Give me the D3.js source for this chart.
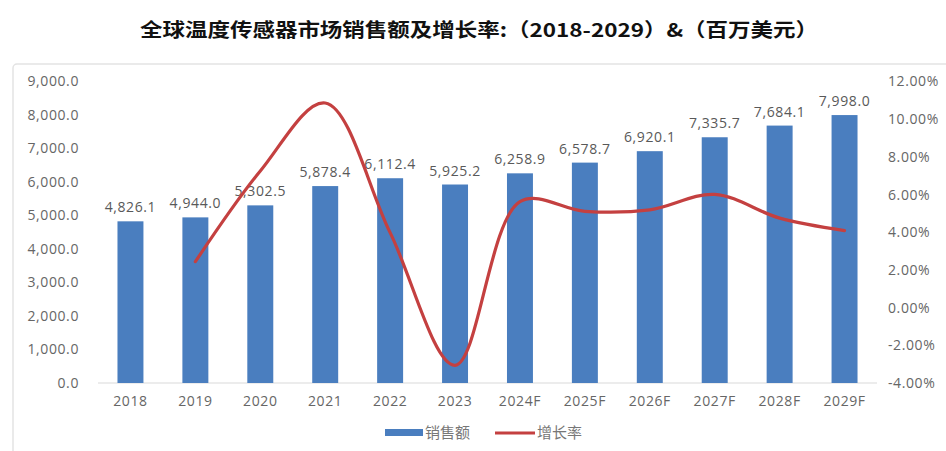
<!DOCTYPE html>
<html>
<head>
<meta charset="utf-8">
<script src="https://cdn.jsdelivr.net/npm/d3@7"></script>
<style>
  body { margin: 0; background: #fff; }
  svg { display: block; }
</style>
</head>
<body>
<svg id="chart" width="946" height="451"></svg>
<script>
const years = [ '2018', '2019', '2020', '2021', '2022', '2023', '2024F', '2025F', '2026F', '2027F', '2028F', '2029F' ];
const sales = [ 4826.1, 4944.0, 5302.5, 5878.4, 6112.4, 5925.2, 6258.9, 6578.7, 6920.1, 7335.7, 7684.1, 7998.0 ];
// growth rate in %, first year has none
const growth = [ null, 2.44, 7.25, 10.86, 3.98, -3.06, 5.63, 5.11, 5.19, 6.01, 4.75, 4.09 ];
const leftTicks = [ 0, 1000, 2000, 3000, 4000, 5000, 6000, 7000, 8000, 9000 ];
const rightTicks = [ -4, -2, 0, 2, 4, 6, 8, 10, 12 ];

const svg = d3.select( '#chart' );
const font = '"Open Sans", "Noto Sans CJK SC", sans-serif';
const grey = '#595959';

// outer frame
svg.append( 'rect' )
    .attr( 'x', 13 ).attr( 'y', 64 )
    .attr( 'width', 960 ).attr( 'height', 420 )
    .attr( 'rx', 4 )
    .attr( 'fill', 'none' )
    .attr( 'stroke', '#e3e3e3' )
    .attr( 'stroke-width', 1.5 );

svg.append( 'text' )
    .attr( 'x', 479 ).attr( 'y', 37 )
    .attr( 'text-anchor', 'middle' )
    .attr( 'font-family', '"Noto Sans CJK SC", sans-serif' )
    .attr( 'font-weight', 'bold' )
    .attr( 'font-size', 19 )
    .attr( 'textLength', 678 )
    .attr( 'lengthAdjust', 'spacingAndGlyphs' )
    .attr( 'fill', '#111' )
    .text( '全球温度传感器市场销售额及增长率:（2018-2029）&（百万美元）' );

const x = d3.scaleBand().domain( years ).range( [ 98, 877 ] ).paddingInner( 0.6 ).paddingOuter( 0.3 );
const y = d3.scaleLinear().domain( [ 0, 9000 ] ).range( [ 383, 81.5 ] );
const y2 = d3.scaleLinear().domain( [ -4, 12 ] ).range( [ 383, 81.5 ] );

// baseline
svg.append( 'line' )
    .attr( 'x1', 98 ).attr( 'x2', 877 )
    .attr( 'y1', y( 0 ) ).attr( 'y2', y( 0 ) )
    .attr( 'stroke', '#d9d9d9' );

const leftAxis = svg.append( 'g' )
    .attr( 'transform', 'translate(79,0)' )
    .call( d3.axisLeft( y ).tickValues( leftTicks ).tickSize( 0 ).tickPadding( 0 ).tickFormat( d3.format( ',.1f' ) ) );

const rightAxis = svg.append( 'g' )
    .attr( 'transform', 'translate(888,0)' )
    .call( d3.axisRight( y2 ).tickValues( rightTicks ).tickSize( 0 ).tickPadding( 0 ).tickFormat( d => d.toFixed( 2 ) + '%' ) );

const xAxis = svg.append( 'g' )
    .attr( 'transform', 'translate(0,' + y( 0 ) + ')' )
    .call( d3.axisBottom( x ).tickSize( 0 ).tickPadding( 13 ) );

[ leftAxis, rightAxis, xAxis ].forEach( g => {
    g.select( '.domain' ).remove();
    g.selectAll( 'text' )
        .attr( 'font-family', font )
        .attr( 'font-size', 14 )
        .attr( 'letter-spacing', 0.6 )
        .attr( 'fill', '#666' );
} );

svg.append( 'g' ).selectAll( 'rect' )
    .data( sales )
    .enter().append( 'rect' )
    .attr( 'x', ( d, i ) => x( years[ i ] ) )
    .attr( 'y', d => y( d ) )
    .attr( 'width', x.bandwidth() )
    .attr( 'height', d => y( 0 ) - y( d ) )
    .attr( 'fill', '#4a7ebf' );

svg.append( 'g' ).selectAll( 'text' )
    .data( sales )
    .enter().append( 'text' )
    .attr( 'x', ( d, i ) => x( years[ i ] ) + x.bandwidth() / 2 )
    .attr( 'y', d => y( d ) - 9 )
    .attr( 'text-anchor', 'middle' )
    .attr( 'font-family', font )
    .attr( 'font-size', 14 )
    .attr( 'letter-spacing', 0.6 )
    .attr( 'fill', grey )
    .text( d3.format( ',.1f' ) );

const pts = growth.map( ( g, i ) => [ years[ i ], g ] ).filter( d => d[ 1 ] !== null );
const line = d3.line()
    .curve( d3.curveCatmullRom.alpha( 0.5 ) )
    .x( d => x( d[ 0 ] ) + x.bandwidth() / 2 )
    .y( d => y2( d[ 1 ] ) );

svg.append( 'path' )
    .datum( pts )
    .attr( 'd', line )
    .attr( 'fill', 'none' )
    .attr( 'stroke', '#c44040' )
    .attr( 'stroke-width', 3.2 )
    .attr( 'stroke-linecap', 'round' );

// legend
const lg = svg.append( 'g' ).attr( 'font-family', '"Noto Sans CJK SC", sans-serif' ).attr( 'font-size', 15 ).attr( 'fill', '#777' );
lg.append( 'rect' ).attr( 'x', 385 ).attr( 'y', 429 ).attr( 'width', 38 ).attr( 'height', 7 ).attr( 'fill', '#4a7ebf' );
lg.append( 'text' ).attr( 'x', 425 ).attr( 'y', 438 ).text( '销售额' );
lg.append( 'line' ).attr( 'x1', 495 ).attr( 'x2', 535 ).attr( 'y1', 433 ).attr( 'y2', 433 ).attr( 'stroke', '#c44040' ).attr( 'stroke-width', 3.2 );
lg.append( 'text' ).attr( 'x', 537 ).attr( 'y', 438 ).text( '增长率' );
</script>
</body>
</html>
